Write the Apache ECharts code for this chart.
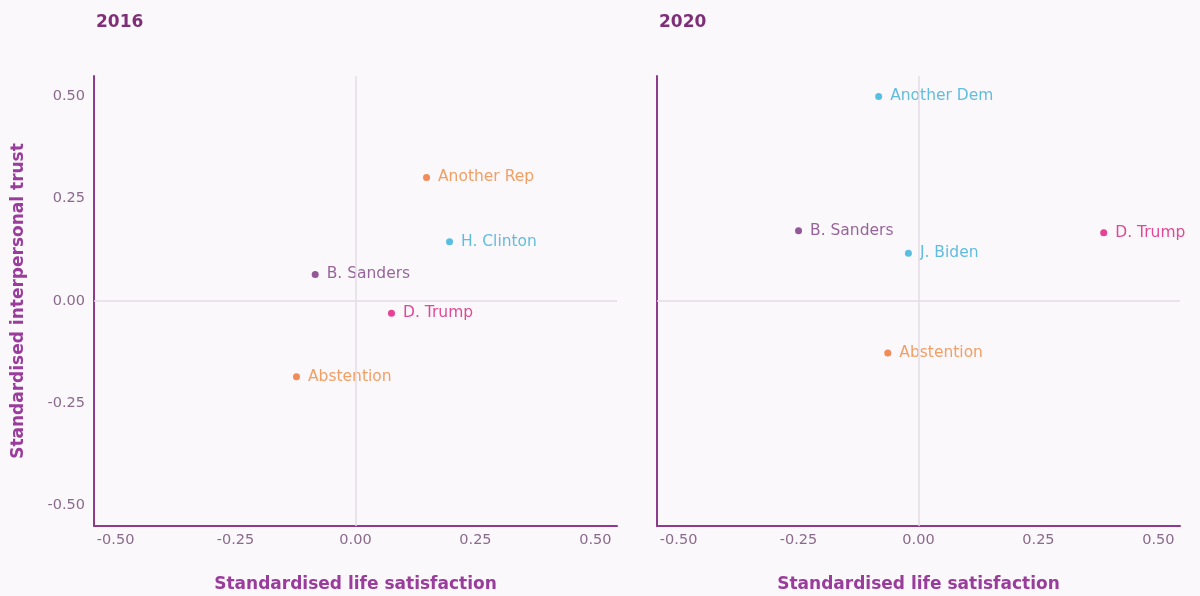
<!DOCTYPE html>
<html><head><meta charset="utf-8">
<script src="https://cdn.jsdelivr.net/npm/echarts@6/dist/echarts.min.js"></script>
<style>html,body{margin:0;padding:0;background:#fbf8fb}#c{width:1200px;height:596px}</style>
</head><body><div id="c"></div>
<script>
const panelTitles = ['2016', '2020'];
const tickValues = [-0.5, -0.25, 0, 0.25, 0.5];
const names2016 = ['Another Rep', 'H. Clinton', 'B. Sanders', 'D. Trump', 'Abstention'];
const life2016 = [0.148, 0.196, -0.084, 0.075, -0.123];
const trust2016 = [0.302, 0.145, 0.065, -0.03, -0.185];
const names2020 = ['Another Dem', 'B. Sanders', 'J. Biden', 'D. Trump', 'Abstention'];
const life2020 = [-0.083, -0.25, -0.021, 0.386, -0.064];
const trust2020 = [0.5, 0.172, 0.117, 0.167, -0.127];
const colors = {'Another Rep':'#ef6f2e','Abstention':'#ef6f2e','H. Clinton':'#2fb0dc','Another Dem':'#2fb0dc','J. Biden':'#2fb0dc','B. Sanders':'#7a2f7e','D. Trump':'#e2127c'};
const labelColors = {'Another Rep':'#f0883e','Abstention':'#f0883e','H. Clinton':'#3aaed8','Another Dem':'#3aaed8','J. Biden':'#3aaed8','B. Sanders':'#7d3f82','D. Trump':'#d81b7a'};

const font = 'DejaVu Sans';
const axisCol = '#8e3b8e';
const tickCol = '#8a6a8c';
function fmt(v){ return v.toFixed(2); }

function makeData(names, xs, ys){
  return names.map((n,i)=>({name:n, value:[xs[i], ys[i]],
    itemStyle:{color:colors[n]}, label:{color:labelColors[n]}}));
}

const grids = [{left:94, top:76, width:523, height:450, outerBoundsMode:'none', containLabel:false},
               {left:657, top:76, width:523, height:450, outerBoundsMode:'none', containLabel:false}];
const xAxes = [0,1].map(i=>({gridIndex:i, type:'value', min:-0.545, max:0.545,
  name:'Standardised life satisfaction', nameLocation:'middle', nameGap:50,
  nameTextStyle:{color:'#9a3c9c', fontFamily:font, fontWeight:'bold', fontSize:17},
  axisLine:{show:true, onZero:false, lineStyle:{color:axisCol, width:2}},
  axisTick:{show:false}, splitLine:{show:false},
  axisLabel:{customValues:tickValues, formatter:fmt, color:tickCol, fontFamily:font, fontSize:14.5, margin:7}}));
const yAxes = [0,1].map(i=>({gridIndex:i, type:'value', min:-0.55, max:0.55,
  name: i===0 ? 'Standardised interpersonal trust' : '', nameLocation:'middle', nameGap:67,
  nameTextStyle:{color:'#9a3c9c', fontFamily:font, fontWeight:'bold', fontSize:17},
  axisLine:{show:true, onZero:false, lineStyle:{color:axisCol, width:2}},
  axisTick:{show:false}, splitLine:{show:false},
  axisLabel:{show:i===0, customValues:tickValues, formatter:fmt, color:tickCol, fontFamily:font, fontSize:14.5, margin:9}}));

function series(i, data){
  return {type:'scatter', xAxisIndex:i, yAxisIndex:i, data:data, symbolSize:7,
    label:{show:true, position:'right', distance:8, formatter:'{b}', fontFamily:font, fontSize:15.5},
    markLine:{silent:true, symbol:'none', label:{show:false},
      lineStyle:{color:'#e6dce6', width:1.5, type:'solid'},
      data:[{xAxis:0},{yAxis:0}]}};
}

const chart = echarts.init(document.getElementById('c'));
chart.setOption({
  backgroundColor:'#fbf8fb',
  animation:false,
  title: panelTitles.map((t,i)=>({text:t, left: i===0?91:654, top:9,
    textStyle:{color:'#7f2f78', fontFamily:font, fontWeight:'bold', fontSize:17}})),
  grid: grids, xAxis: xAxes, yAxis: yAxes,
  series:[series(0, makeData(names2016, life2016, trust2016)), series(1, makeData(names2020, life2020, trust2020))]
});
</script></body></html>
